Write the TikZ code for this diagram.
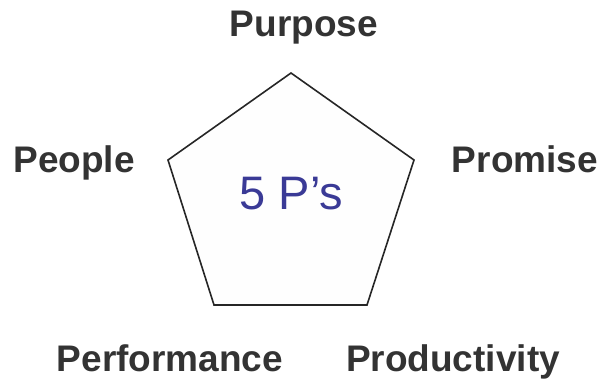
\documentclass[tikz,border=0pt]{standalone}
\usepackage{fontspec}
\setmainfont{Liberation Sans}
\definecolor{lbl}{HTML}{333333}
\definecolor{ptxt}{HTML}{3A3A96}
\tikzset{
  lab/.style={anchor=base, text=lbl, font=\fontsize{37}{40}\selectfont\bfseries, inner sep=0pt},
  pent/.style={draw=black!85, line width=1.6pt, fill=white!99.5!black, line join=miter}
}
\begin{document}
\begin{tikzpicture}[x=1pt,y=-1pt]
\useasboundingbox (0,0) rectangle (613,379);
\coordinate (v1) at (291,73);
\coordinate (v2) at (414,160);
\coordinate (v3) at (367,305);
\coordinate (v4) at (214,305);
\coordinate (v5) at (168,160);
\draw[pent] (v1) -- (v2) -- (v3) -- (v4) -- (v5) -- cycle;
\node[anchor=base, text=ptxt, font=\fontsize{47}{50}\selectfont, inner sep=0pt] (c) at (291.5,210) {5 P’s};
\node[lab] (pur) at (304,37) {Purpose};
\node[lab] (peo) at (74,173) {People};
\node[lab] (pro) at (525,173) {Promise};
\node[lab] (per) at (170,371) {Performance};
\node[lab] (prd) at (453,371) {Productivity};
\end{tikzpicture}
\end{document}
